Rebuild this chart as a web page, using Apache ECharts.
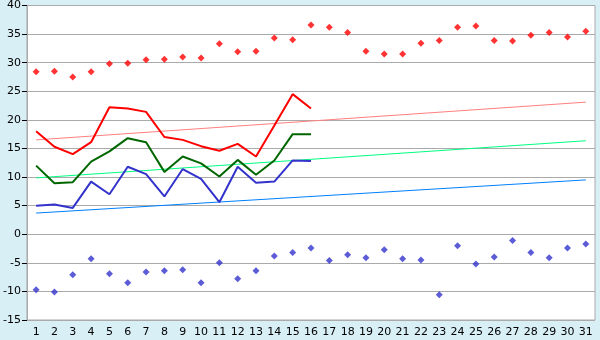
<!DOCTYPE html>
<html><head><meta charset="utf-8">
<script src="https://cdn.jsdelivr.net/npm/echarts@6/dist/echarts.min.js"></script>
<style>html,body{margin:0;padding:0;background:#D9EFF6;}#c{width:600px;height:340px;}</style>
</head><body><div id="c"></div>
<script>
const categories = ['1','2','3','4','5','6','7','8','9','10','11','12','13','14','15','16','17','18','19','20','21','22','23','24','25','26','27','28','29','30','31'];
const maxPoints = [28.4,28.5,27.5,28.4,29.8,29.9,30.5,30.6,31.0,30.8,33.3,31.9,32.0,34.3,34.0,36.6,36.2,35.3,32.0,31.5,31.5,33.4,33.9,36.2,36.4,33.9,33.8,34.8,35.3,34.5,35.5];
const minPoints = [-9.7,-10.1,-7.1,-4.3,-6.9,-8.5,-6.6,-6.4,-6.2,-8.5,-5.0,-7.8,-6.4,-3.8,-3.2,-2.4,-4.6,-3.6,-4.1,-2.7,-4.3,-4.5,-10.6,-2.0,-5.2,-4.0,-1.1,-3.2,-4.1,-2.4,-1.7];
const redLine = [18.0,15.3,14.0,16.1,22.2,22.0,21.4,17.0,16.5,15.4,14.6,15.8,13.6,19.0,24.5,22.0];
const greenLine = [12.0,8.9,9.1,12.7,14.5,16.8,16.1,10.9,13.6,12.4,10.1,13.0,10.4,12.9,17.5,17.5];
const blueLine = [5.0,5.2,4.6,9.2,7.0,11.8,10.5,6.6,11.4,9.7,5.6,11.8,9.0,9.2,12.9,12.8];
// trend lines: start (day 1) and end (day 31) values
const redTrend = [16.5, 23.1];
const greenTrend = [9.85, 16.35];
const blueTrend = [3.7, 9.5];
const yTicks = {min:-15, max:40, interval:5};

function trend(pair){
  const d = categories.map(()=>null);
  d[0] = pair[0]; d[d.length-1] = pair[1];
  return d;
}
const font = 'DejaVu Sans';
const chart = echarts.init(document.getElementById('c'), null, {renderer:'canvas'});
chart.setOption({
  animation:false,
  backgroundColor:'#D9EFF6',
  grid:{left:26,right:5,top:5,bottom:20,show:true,backgroundColor:'#FFFFFF',borderColor:'#AAAAAA',borderWidth:1},
  xAxis:{type:'category',data:categories,boundaryGap:true,
    axisLine:{lineStyle:{color:'#AAAAAA',width:1}},
    axisTick:{alignWithLabel:true,length:5,lineStyle:{color:'#000'}},
    axisLabel:{color:'#000',fontSize:11,fontFamily:font,margin:7,interval:0},
    splitLine:{show:false}},
  yAxis:{type:'value',min:yTicks.min,max:yTicks.max,interval:yTicks.interval,
    axisLine:{show:true,lineStyle:{color:'#AAAAAA',width:1}},
    axisTick:{show:true,length:5,lineStyle:{color:'#000'}},
    axisLabel:{color:'#000',fontSize:11,fontFamily:font,margin:6},
    splitLine:{lineStyle:{color:'#AAAAAA',width:1}}},
  series:[
    {type:'line',data:trend(redTrend),connectNulls:true,symbol:'none',lineStyle:{color:'#FF8080',width:1},z:2},
    {type:'line',data:trend(greenTrend),connectNulls:true,symbol:'none',lineStyle:{color:'#00FF80',width:1},z:2},
    {type:'line',data:trend(blueTrend),connectNulls:true,symbol:'none',lineStyle:{color:'#0080FF',width:1},z:2},
    {type:'line',data:redLine,symbol:'none',lineStyle:{color:'#FF0000',width:2},z:3},
    {type:'line',data:greenLine,symbol:'none',lineStyle:{color:'#006600',width:2},z:3},
    {type:'line',data:blueLine,symbol:'none',lineStyle:{color:'#3333CC',width:2},z:3},
    {type:'scatter',data:maxPoints,symbol:'diamond',symbolSize:7,itemStyle:{color:'#FF0000'},z:4},
    {type:'scatter',data:minPoints,symbol:'diamond',symbolSize:7,itemStyle:{color:'#3333CC'},z:4}
  ]
});
</script></body></html>
